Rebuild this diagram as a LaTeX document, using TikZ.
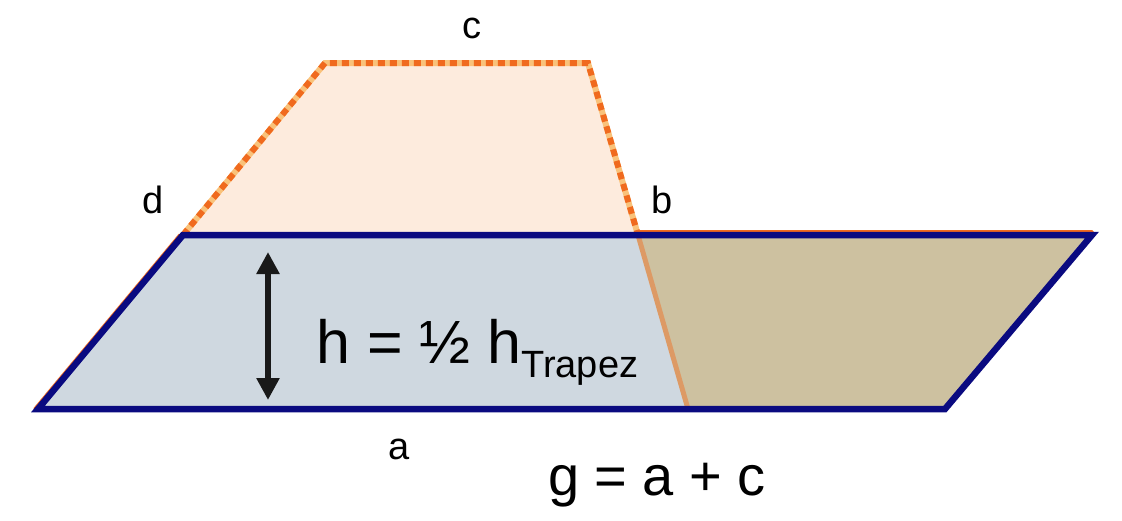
\documentclass[tikz,border=0pt]{standalone}
\usepackage{fontspec}
\setmainfont{Liberation Sans}
\definecolor{EdgeNavy}{HTML}{0A0A80}
\definecolor{CutOrange}{HTML}{F06A1E}
\definecolor{CutYellow}{HTML}{F9C27A}
\definecolor{TopFill}{HTML}{FDEBDD}
\definecolor{BaseFill}{HTML}{CFD8E0}
\definecolor{MovedFill}{HTML}{CDC1A0}
\usetikzlibrary{arrows.meta, calc}

\begin{document}
\begin{tikzpicture}[
  x=1pt, y=-1pt,
  lbl/.style={font=\fontsize{38}{44}\selectfont, inner sep=0pt, anchor=base},
  big/.style={font=\fontsize{56}{66}\selectfont, inner sep=0pt, anchor=base},
  rim/.style={draw=EdgeNavy, line width=6.5pt, line join=miter},
  cut/.style={draw=CutOrange, line width=6pt, dash pattern=on 7pt off 5pt},
  cutbase/.style={draw=CutYellow, line width=6pt},
  edge/.style={draw=CutOrange, line width=3.5pt, line cap=round},
  seam/.style={draw=CutOrange!45!MovedFill, line width=5pt},
  harr/.style={{Triangle[length=22pt,width=22pt]}-{Triangle[length=22pt,width=22pt]},
    line width=6pt, black!90},
]
  \useasboundingbox (0,0) rectangle (1122,520);

  % corners
  \coordinate (A) at (38,409);
  \coordinate (B) at (688,409);
  \coordinate (C) at (588,63);
  \coordinate (D) at (325,63);
  \coordinate (M) at (183,235);
  \coordinate (N) at (638,235);
  \coordinate (P) at (1092,235);
  \coordinate (Q) at (945,409);

  \fill[TopFill] (M) -- (D) -- (C) -- (N) -- cycle;
  \fill[BaseFill] (A) -- (M) -- (N) -- (B) -- cycle;
  \fill[MovedFill] (N) -- (P) -- (Q) -- (B) -- cycle;

  % cut lines
  \draw[cutbase] (M) -- (D) -- (C) -- (N);
  \draw[cut] (M) -- (D) -- (C) -- (N);
  \draw[edge] ([xshift=-3pt]A) -- ([xshift=-3pt]M);
  \draw[edge] ([yshift=3.5pt]N) -- ([yshift=3.5pt]P);
  \draw[seam] (N) -- (B);

  \draw[rim] (A) -- (M) -- (P) -- (Q) -- cycle;

  % height
  \coordinate (h1) at (268,252);
  \coordinate (h2) at (268,400);
  \draw[harr] (h1) -- (h2);

  \node[lbl] (lc) at (472,38) {c};
  \node[lbl] (ld) at (153,213) {d};
  \node[lbl] (lb) at (662,213) {b};
  \node[lbl] (la) at (399,459) {a};
  \node[big, anchor=base west, font=\fontsize{61}{70}\selectfont] (lh) at (316,363)
    {h = ½ h\raisebox{-14pt}{\fontsize{38}{44}\selectfont Trapez}};
  \node[big] (lg) at (657,495) {g = a + c};
\end{tikzpicture}
\end{document}
